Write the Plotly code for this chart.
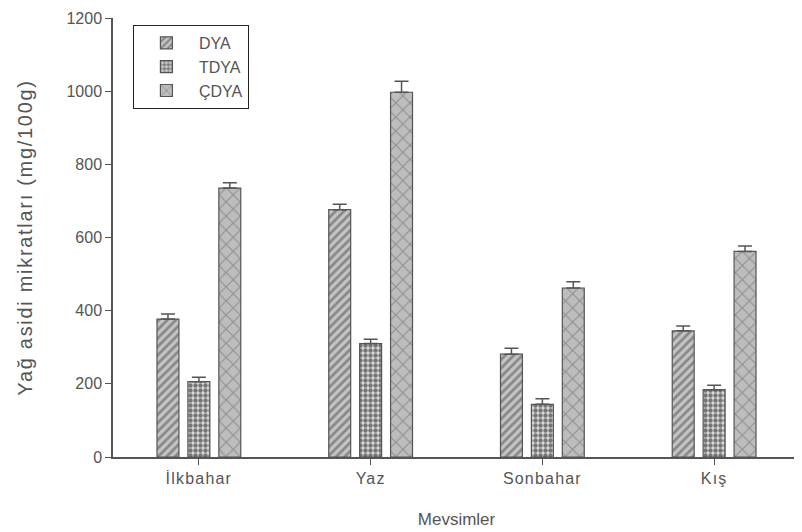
import plotly.graph_objects as go

categories = ["İlkbahar", "Yaz", "Sonbahar", "Kış"]
series_names = ["DYA", "TDYA", "ÇDYA"]
dya = [377, 676, 281, 345]
tdya = [206, 310, 144, 184]
cdya = [735, 997, 462, 562]
dya_err = [14, 15, 16, 13]
tdya_err = [12, 12, 15, 12]
cdya_err = [15, 30, 17, 15]

values = [dya, tdya, cdya]
errors = [dya_err, tdya_err, cdya_err]
patterns = [
    dict(shape="/", bgcolor="#c4c4c4", fgcolor="#4a4a4a", size=6, solidity=0.45, fillmode="overlay"),
    dict(shape=".", bgcolor="#d8d8d8", fgcolor="#111111", size=5, solidity=0.6, fillmode="overlay"),
    dict(shape="x", bgcolor="#bdbdbd", fgcolor="#5e5e5e", size=10, solidity=0.2, fillmode="overlay"),
]

fig = go.Figure()
for name, vals, errs, pat in zip(series_names, values, errors, patterns):
    fig.add_trace(go.Bar(
        name=name, x=categories, y=vals,
        marker=dict(color=pat["bgcolor"], pattern=pat, line=dict(color="#555555", width=1.2)),
        error_y=dict(type="data", symmetric=False, array=errs, arrayminus=[0] * len(errs),
                     color="#555555", thickness=1.5, width=7),
    ))

def spaced(t, px):
    return f'<span style="letter-spacing:{px}px">{t}</span>'

font_family = "Liberation Sans, Arial, sans-serif"
fig.update_layout(
    width=794, height=524,
    margin=dict(l=105, r=2, t=10, b=75),
    paper_bgcolor="white", plot_bgcolor="white",
    barmode="group", bargap=0.46, bargroupgap=0.29,
    font=dict(family=font_family, color="#555555", size=13),
    showlegend=True,
    legend=dict(x=0.029, y=0.984, xanchor="left", yanchor="top",
                bordercolor="#222222", borderwidth=1, bgcolor="white",
                font=dict(size=16, color="#555555"), itemwidth=55,
                entrywidth=112, tracegroupgap=6),
    xaxis=dict(showline=True, linecolor="#555555", linewidth=1.5,
               ticks="outside", ticklen=6, tickcolor="#555555",
               tickmode="array", tickvals=categories,
               ticktext=[spaced(c, 1.2) for c in categories],
               tickfont=dict(size=16, color="#555555"),
               title=dict(text="Mevsimler", font=dict(size=17, color="#555555"), standoff=27),
               showgrid=False, automargin=False),
    yaxis=dict(range=[0, 1200], dtick=200, showline=True, linecolor="#555555", linewidth=1.5,
               ticks="outside", ticklen=6, tickcolor="#555555",
               tickfont=dict(size=16, color="#555555"),
               title=dict(text=spaced("Yağ asidi mikratları (mg/100g)", 1.7),
                          font=dict(size=20, color="#555555"), standoff=28),
               showgrid=False, zeroline=False, automargin=False),
)

fig.write_html("out.html")
